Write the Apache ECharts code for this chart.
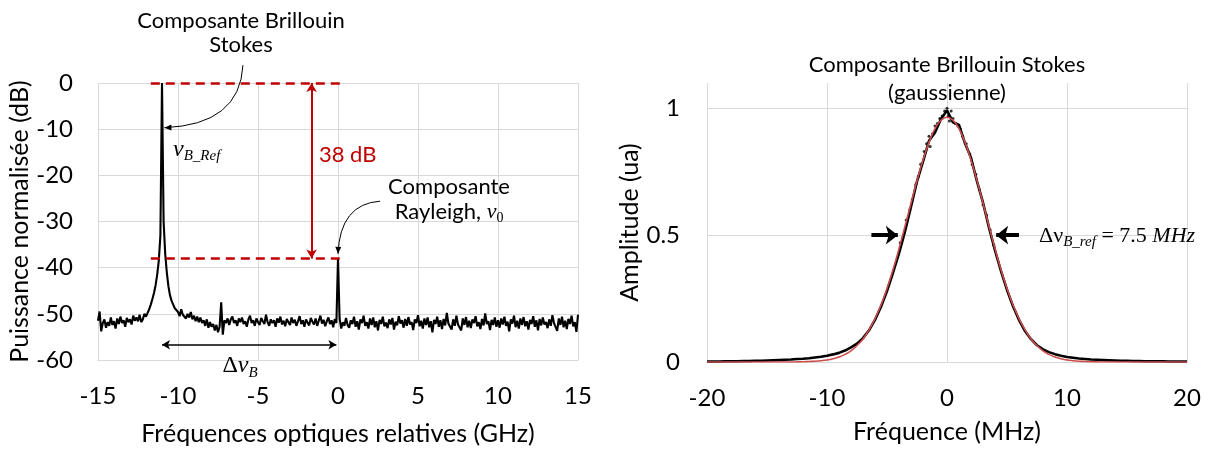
<!DOCTYPE html>
<html><head><meta charset="utf-8">
<script src="https://cdn.jsdelivr.net/npm/echarts@6/dist/echarts.min.js"></script>
<style>html,body{margin:0;padding:0;background:#fff}#c{width:1210px;height:451px}</style>
</head><body><div id="c"></div>
<script>
// ---------- DATA ----------
// Left: optical spectrum, sampled every 0.1 GHz from -15 to 15 GHz (dB)
const specStart = -15, specStep = 0.1;
const spectrumDb = [
 -51.5,-49.5,-53.8,-52.0,-51.2,-53.0,-51.8,-52.6,-50.8,-52.4,
 -51.6,-53.2,-51.0,-52.2,-50.6,-52.0,-51.4,-52.8,-50.9,-51.8,
 -51.2,-52.3,-50.4,-51.5,-50.8,-51.6,-50.2,-51.8,-51.2,-50.0,
 -50.6,-49.8,-49.0,-48.0,-46.8,-45.5,-43.8,-41.5,-38.5,-33.0,
 0,-30.0,-37.0,-41.0,-44.0,-46.0,-47.2,-48.0,-48.8,-49.2,
 -49.6,-50.5,-49.0,-50.2,-49.8,-51.0,-50.0,-50.8,-49.6,-51.2,
 -50.4,-51.6,-50.6,-51.8,-50.8,-52.0,-51.4,-52.6,-51.2,-53.0,
 -51.8,-52.8,-52.2,-53.6,-52.4,-54.0,-52.8,-47.5,-54.5,-51.4,
 -52.0,-51.0,-52.4,-51.2,-50.6,-52.0,-51.4,-52.6,-51.0,-51.8,
 -50.8,-52.2,-51.6,-52.8,-51.2,-50.4,-52.0,-51.4,-52.6,-51.0,
 -51.8,-52.4,-50.9,-51.6,-52.2,-50.2,-51.8,-52.6,-51.2,-52.0,
 -51.4,-52.8,-51.0,-51.9,-50.6,-52.3,-51.5,-52.7,-51.1,-51.8,
 -52.4,-50.8,-52.0,-51.3,-52.6,-51.6,-50.5,-52.2,-51.4,-52.8,
 -51.2,-51.9,-52.5,-50.9,-51.7,-52.3,-51.0,-52.6,-51.5,-50.4,
 -52.1,-51.3,-52.7,-51.6,-50.8,-52.2,-51.4,-52.9,-51.1,-52.0,
 -38.0,-51.0,-53.2,-51.8,-52.6,-50.9,-52.4,-53.0,-51.4,-52.2,
 -50.6,-52.8,-51.6,-53.4,-51.2,-52.0,-50.4,-52.6,-51.8,-53.2,
 -51.0,-52.4,-50.8,-52.9,-51.6,-53.6,-51.3,-52.2,-50.6,-52.7,
 -51.9,-53.1,-51.2,-52.3,-50.9,-53.4,-51.7,-52.5,-50.5,-52.1,
 -51.4,-53.0,-51.1,-52.6,-50.7,-52.3,-51.8,-53.5,-51.2,-52.0,
 -50.3,-52.7,-51.5,-53.2,-51.0,-52.4,-50.8,-52.9,-51.6,-54.0,
 -51.3,-52.2,-50.6,-52.8,-51.4,-53.3,-51.1,-52.5,-49.8,-52.1,
 -51.7,-53.4,-51.2,-52.6,-50.4,-52.3,-51.9,-53.6,-51.0,-52.4,
 -50.7,-52.9,-51.5,-53.1,-51.2,-52.0,-50.5,-52.7,-51.8,-53.3,
 -51.1,-52.5,-49.9,-52.2,-51.6,-53.5,-51.3,-52.4,-50.8,-52.8,
 -51.4,-53.0,-51.0,-52.3,-50.6,-52.6,-51.7,-53.8,-51.2,-52.1,
 -50.4,-52.9,-51.5,-53.2,-51.0,-52.4,-50.7,-52.7,-51.6,-53.4,
 -51.3,-52.2,-50.5,-52.8,-51.4,-53.6,-51.1,-52.5,-50.8,-52.3,
 -51.8,-53.1,-51.2,-52.6,-50.3,-52.0,-51.6,-53.7,-51.0,-52.4,
 -50.6,-52.9,-51.5,-53.3,-51.1,-52.2,-50.4,-52.7,-51.8,-53.9,
 -50.2
];
// Right: Brillouin Stokes line, sampled every 0.5 MHz from -20 to 20 MHz
const gaussStart = -20, gaussStep = 0.5;
const measured = [
 0.002,0.002,0.002,0.003,0.003,0.003,0.004,0.004,0.005,0.005,
 0.006,0.007,0.008,0.009,0.010,0.012,0.013,0.015,0.018,0.021,
 0.025,0.030,0.036,0.045,0.058,0.072,0.094,0.125,0.166,0.218,
 0.280,0.352,0.428,0.515,0.612,0.712,0.790,0.872,0.905,0.958,
 0.992,
 0.945,0.935,0.862,0.805,0.712,0.628,0.530,0.440,0.358,0.284,
 0.220,0.166,0.122,0.090,0.066,0.050,0.039,0.031,0.025,0.020,
 0.017,0.014,0.012,0.010,0.009,0.008,0.007,0.006,0.005,0.005,
 0.004,0.004,0.003,0.003,0.003,0.003,0.002,0.002,0.002,0.002
];
const gaussFit = [
 0,0,0,0,0,0,0,0,0,0,0,0,0,0,0,
 0.0005,0.001,0.002,0.003,0.005,0.008,0.013,0.020,0.030,0.044,0.065,0.091,0.127,0.171,0.225,0.290,0.364,0.447,0.535,0.626,0.715,0.796,0.866,0.920,0.953,
 0.965,
 0.953,0.920,0.866,0.796,0.715,0.626,0.535,0.447,0.364,0.290,0.225,0.171,0.127,0.091,0.065,0.044,0.030,0.020,0.013,0.008,0.005,0.003,0.002,0.001,0.0005,
 0,0,0,0,0,0,0,0,0,0,0,0,0,0,0
];
// scattered measurement points around the top of the line [MHz, amplitude]
const peakPoints = [
 [-3.9,0.47],[-3.7,0.49],[-3.4,0.56],[-3.1,0.60],[-2.9,0.64],[-2.6,0.70],[-2.4,0.73],[-2.2,0.78],
 [-1.9,0.83],[-1.7,0.86],[-1.5,0.89],[-1.4,0.85],[-1.2,0.90],[-1.0,0.93],[-0.8,0.94],[-0.6,0.96],
 [-0.4,0.97],[-0.2,0.99],[0.0,1.0],[0.1,0.97],[0.2,0.95],[0.35,0.99],[0.5,0.96],[0.7,0.94],
 [0.9,0.93],[1.1,0.92],[1.3,0.89],[1.6,0.86],[1.9,0.82],[2.1,0.78],[2.4,0.74],[2.7,0.68],
 [3.0,0.62],[3.3,0.58],[3.6,0.52],[3.9,0.46]
];
// annotation values
const brillouinPeakGHz = -11, rayleighGHz = 0, rayleighLevelDb = -38;

// ---------- CHART ----------
const FONT = 'Lato, Carlito, "Open Sans", sans-serif';
const SERIF = '"Liberation Serif", "DejaVu Serif", serif';
const GRID = '#d9d9d9';
const RED = '#C00000';
const specPts = spectrumDb.map((v, i) => [+(specStart + i * specStep).toFixed(2), v]);
const measPts = measured.map((v, i) => [gaussStart + i * gaussStep, v]);
const fitPts = gaussFit.map((v, i) => [gaussStart + i * gaussStep, v]);

const tick = {fontFamily: FONT, fontSize: 24, color: '#000'};
const nameStyle = {fontFamily: FONT, fontSize: 25, color: '#000'};
const chart = echarts.init(document.getElementById('c'));

chart.setOption({
  animation: false,
  grid: [{left: 98, top: 83, width: 480, height: 279}, {left: 707, top: 83, width: 480, height: 279}],
  xAxis: [
    {gridIndex: 0, type: 'value', min: -15, max: 15, interval: 5,
     axisLine: {show: true, onZero: false, lineStyle: {color: GRID}}, axisTick: {show: false},
     splitLine: {show: true, lineStyle: {color: GRID}}, axisLabel: Object.assign({margin: 24}, tick),
     name: 'Fréquences optiques relatives (GHz)', nameLocation: 'middle', nameGap: 61, nameTextStyle: nameStyle},
    {gridIndex: 1, type: 'value', min: -20, max: 20, interval: 10,
     axisLine: {show: true, onZero: false, lineStyle: {color: GRID}}, axisTick: {show: false},
     splitLine: {show: true, lineStyle: {color: GRID}}, axisLabel: Object.assign({margin: 24}, tick),
     name: 'Fréquence (MHz)', nameLocation: 'middle', nameGap: 57, nameTextStyle: nameStyle}
  ],
  yAxis: [
    {gridIndex: 0, type: 'value', min: -60, max: 0, interval: 10,
     axisLine: {show: false, onZero: false}, axisTick: {show: false},
     splitLine: {show: true, lineStyle: {color: GRID}}, axisLabel: Object.assign({margin: 25}, tick),
     name: 'Puissance normalisée (dB)', nameLocation: 'middle', nameGap: 63, nameTextStyle: nameStyle},
    {gridIndex: 1, type: 'value', min: 0, max: 1.1, interval: 0.5,
     axisLine: {show: false, onZero: false}, axisTick: {show: false},
     splitLine: {show: true, showMaxLine: false, lineStyle: {color: GRID}},
     axisLabel: Object.assign({margin: 27, showMaxLabel: false,
       formatter: v => (v === 0 ? '0' : v === 0.5 ? '0.5' : v === 1 ? '1' : '')}, tick),
     name: 'Amplitude (ua)', nameLocation: 'middle', nameGap: 58, nameTextStyle: nameStyle}
  ],
  series: [
    {type: 'line', xAxisIndex: 0, yAxisIndex: 0, data: specPts, showSymbol: false, sampling: null,
     lineStyle: {color: '#000', width: 2.1}, z: 3,
     markLine: {silent: true, animation: false, symbol: ['none', 'none'], label: {show: false},
       data: [
         [{coord: [-11.7, 0], lineStyle: {color: RED, width: 2.5, type: [9, 6]}}, {coord: [0.45, 0]}],
         [{coord: [-11.7, rayleighLevelDb], lineStyle: {color: RED, width: 2.5, type: [9, 6]}}, {coord: [0.45, rayleighLevelDb]}],
         [{coord: [-1.65, rayleighLevelDb], symbol: 'arrow', symbolSize: [8, 9], lineStyle: {color: RED, width: 2, type: 'solid'}},
          {coord: [-1.65, 0], symbol: 'arrow', symbolSize: [8, 9]}],
         [{coord: [brillouinPeakGHz, -56.7], symbol: 'arrow', symbolSize: [7, 8], lineStyle: {color: '#000', width: 1.5, type: 'solid'}},
          {coord: [rayleighGHz - 0.1, -56.7], symbol: 'arrow', symbolSize: [7, 8]}]
       ]}},
    {type: 'line', xAxisIndex: 1, yAxisIndex: 1, data: measPts, showSymbol: false,
     lineStyle: {color: '#000', width: 2.6}, z: 2},
    {type: 'scatter', xAxisIndex: 1, yAxisIndex: 1, data: peakPoints, symbolSize: 3,
     itemStyle: {color: '#000'}, z: 2},
    {type: 'line', xAxisIndex: 1, yAxisIndex: 1, data: fitPts, showSymbol: false, smooth: true,
     lineStyle: {color: '#CC4C4C', width: 1.6}, z: 4,
     markLine: {silent: true, animation: false, symbol: ['none', 'arrow'], symbolSize: [14, 12], label: {show: false},
       lineStyle: {color: '#000', width: 4, type: 'solid'},
       data: [
         [{coord: [-6.3, 0.5]}, {coord: [-4.1, 0.5]}],
         [{coord: [6.0, 0.5]}, {coord: [4.1, 0.5]}]
       ]}}
  ]
});

// ---------- ANNOTATIONS (anchored in data coordinates) ----------
const P = (g, x, y) => chart.convertToPixel({gridIndex: g}, [x, y]);
const cv = document.createElement('canvas').getContext('2d');
const mkFont = p => (p.italic ? 'italic ' : '') + p.size + 'px ' + (p.family || FONT);
function runs(pt, parts, align) {
  const w = parts.map(p => { cv.font = mkFont(p); return cv.measureText(p.text).width; });
  const total = w.reduce((a, b) => a + b, 0);
  let x = align === 'center' ? pt[0] - total / 2 : pt[0];
  return parts.map((p, i) => {
    const el = {type: 'text', x: x, y: pt[1] + (p.dy || 0), silent: true, z: 100,
      style: {text: p.text, font: mkFont(p), fill: p.color || '#000',
        textAlign: 'left', textVerticalAlign: 'middle', align: 'left', verticalAlign: 'middle'}};
    x += w[i];
    return el;
  });
}
function head(tip, from, len, hw) {
  const dx = tip[0] - from[0], dy = tip[1] - from[1], L = Math.hypot(dx, dy);
  const ux = dx / L, uy = dy / L, bx = tip[0] - ux * len, by = tip[1] - uy * len;
  return {type: 'polygon', silent: true, z: 100,
    shape: {points: [tip, [bx - uy * hw, by + ux * hw], [bx + uy * hw, by - ux * hw]]}, style: {fill: '#000'}};
}
function curveArrow(a, c, b) {
  return [{type: 'bezierCurve', silent: true, z: 100,
    shape: {x1: a[0], y1: a[1], cpx1: c[0], cpy1: c[1], x2: b[0], y2: b[1]},
    style: {stroke: '#000', lineWidth: 1, fill: 'none'}}, head(b, c, 7, 3)];
}
const S = 22;
const g = [];
g.push(...runs(P(0, -6.06, 13.55), [{text: 'Composante Brillouin', size: S}], 'center'));
g.push(...runs(P(0, -6.06, 8.17), [{text: 'Stokes', size: S}], 'center'));
g.push(...curveArrow(P(0, -5.94, 3.87), P(0, -6.13, -9.03), P(0, brillouinPeakGHz + 0.15, -9.68)));
g.push(...runs(P(0, -10.31, -14.4), [
  {text: 'ν', size: 24, italic: true, family: SERIF},
  {text: 'B_Ref', size: 15, italic: true, family: SERIF, dy: 7}]));
g.push(...runs(P(0, -1.19, -15.5), [{text: '38 dB', size: S, color: RED}]));
g.push(...runs(P(0, 6.94, -22.6), [{text: 'Composante', size: S}], 'center'));
g.push(...runs(P(0, 6.94, -27.96), [
  {text: 'Rayleigh, ', size: S},
  {text: 'ν', size: 22, italic: true, family: SERIF},
  {text: '0', size: 14, family: SERIF, dy: 6}], 'center'));
g.push(...curveArrow(P(0, 2.63, -25.6), P(0, 0.125, -26.2), P(0, rayleighGHz, -37.0)));
g.push(...runs(P(0, -6.125, -61.3), [
  {text: 'Δ', size: 24, family: SERIF},
  {text: 'ν', size: 24, italic: true, family: SERIF},
  {text: 'B', size: 15, italic: true, family: SERIF, dy: 7}], 'center'));
g.push(...runs(P(1, 0, 1.171), [{text: 'Composante Brillouin Stokes', size: S}], 'center'));
g.push(...runs(P(1, 0, 1.061), [{text: '(gaussienne)', size: S}], 'center'));
g.push(...runs(P(1, 7.67, 0.497), [
  {text: 'Δν', size: 22, family: SERIF},
  {text: 'B_ref', size: 15, italic: true, family: SERIF, dy: 6},
  {text: ' = 7.5 ', size: 22, family: SERIF},
  {text: 'MHz', size: 22, italic: true, family: SERIF}]));
chart.setOption({graphic: g});
</script></body></html>
